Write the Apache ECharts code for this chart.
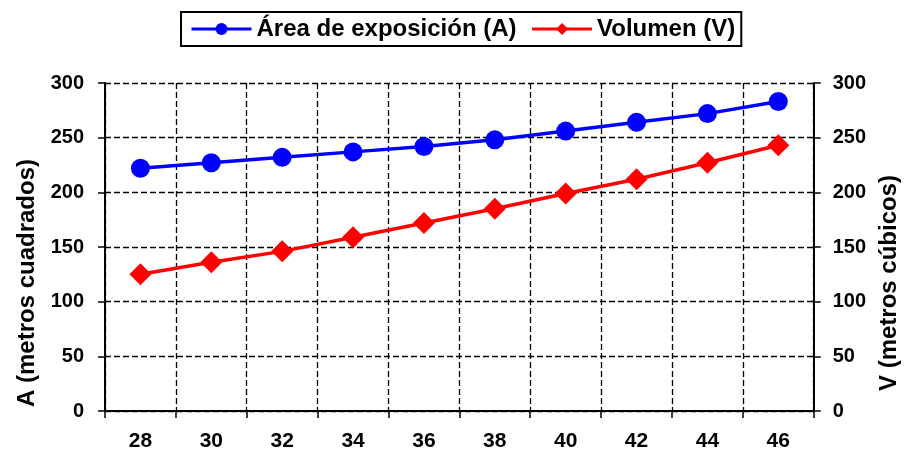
<!DOCTYPE html>
<html><head><meta charset="utf-8">
<script src="https://cdn.jsdelivr.net/npm/echarts@6/dist/echarts.min.js"></script>
<style>html,body{margin:0;padding:0;background:#fff}#c{width:909px;height:454px}</style>
</head><body><div id="c"></div>
<script>
const categories = ['28','30','32','34','36','38','40','42','44','46'];
const areaValues = [222, 227, 232, 237, 242, 248, 256, 264, 272, 283];
const volumeValues = [125, 136, 146, 159, 172, 185, 199, 212, 227, 243];
const yTicks = [0, 50, 100, 150, 200, 250, 300];

const font = 'Liberation Sans, Arial, sans-serif';
const chart = echarts.init(document.getElementById('c'));
const valueAxis = (pos, name) => ({
  type: 'value', position: pos, min: yTicks[0], max: yTicks[yTicks.length - 1], interval: yTicks[1] - yTicks[0],
  name: name, nameLocation: 'middle', nameRotate: 90,
  nameGap: pos === 'left' ? 60 : 63,
  nameTextStyle: {fontFamily: font, fontWeight: 'bold', fontSize: 24, color: '#000', padding: [0, 72, 0, 0]},
  axisLine: {show: true, lineStyle: {color: '#000', width: 2}},
  axisTick: {show: true, length: 7, lineStyle: {color: '#000', width: 1.5}},
  axisLabel: {fontFamily: font, fontWeight: 'bold', fontSize: 20, color: '#000', margin: pos === 'left' ? 21 : 19},
  splitLine: {show: pos === 'left', lineStyle: {color: '#000', type: [6, 3], width: 1.3}}
});
chart.setOption({
  animation: false,
  grid: {left: 105, right: 92, top: 83, bottom: 43},
  legend: {
    top: 12, left: 181,
    itemWidth: 60, itemHeight: 15, itemGap: 14,
    borderColor: '#000', borderWidth: 2, padding: [5, 6, 5, 9],
    lineStyle: {width: 3},
    textStyle: {fontFamily: font, fontWeight: 'bold', fontSize: 24, color: '#000'},
    data: ['Área de exposición (A)', 'Volumen (V)']
  },
  xAxis: {
    type: 'category', data: categories, boundaryGap: true,
    axisLine: {lineStyle: {color: '#000', width: 2}},
    axisTick: {show: true, length: 7, lineStyle: {color: '#000', width: 1.5}},
    axisLabel: {fontFamily: font, fontWeight: 'bold', fontSize: 21, color: '#000', margin: 20},
    splitLine: {show: true, lineStyle: {color: '#000', type: [6, 3], width: 1.3}}
  },
  yAxis: [valueAxis('left', 'A (metros cuadrados)'), valueAxis('right', 'V (metros cúbicos)')],
  series: [
    {name: 'Área de exposición (A)', type: 'line', yAxisIndex: 0, data: areaValues,
     symbol: 'circle', symbolSize: 19, lineStyle: {color: '#0000ff', width: 3.5},
     itemStyle: {color: '#0000ff'}},
    {name: 'Volumen (V)', type: 'line', yAxisIndex: 1, data: volumeValues,
     symbol: 'diamond', symbolSize: [22, 22], lineStyle: {color: '#ff0000', width: 3.5},
     itemStyle: {color: '#ff0000'}}
  ]
});
</script></body></html>
